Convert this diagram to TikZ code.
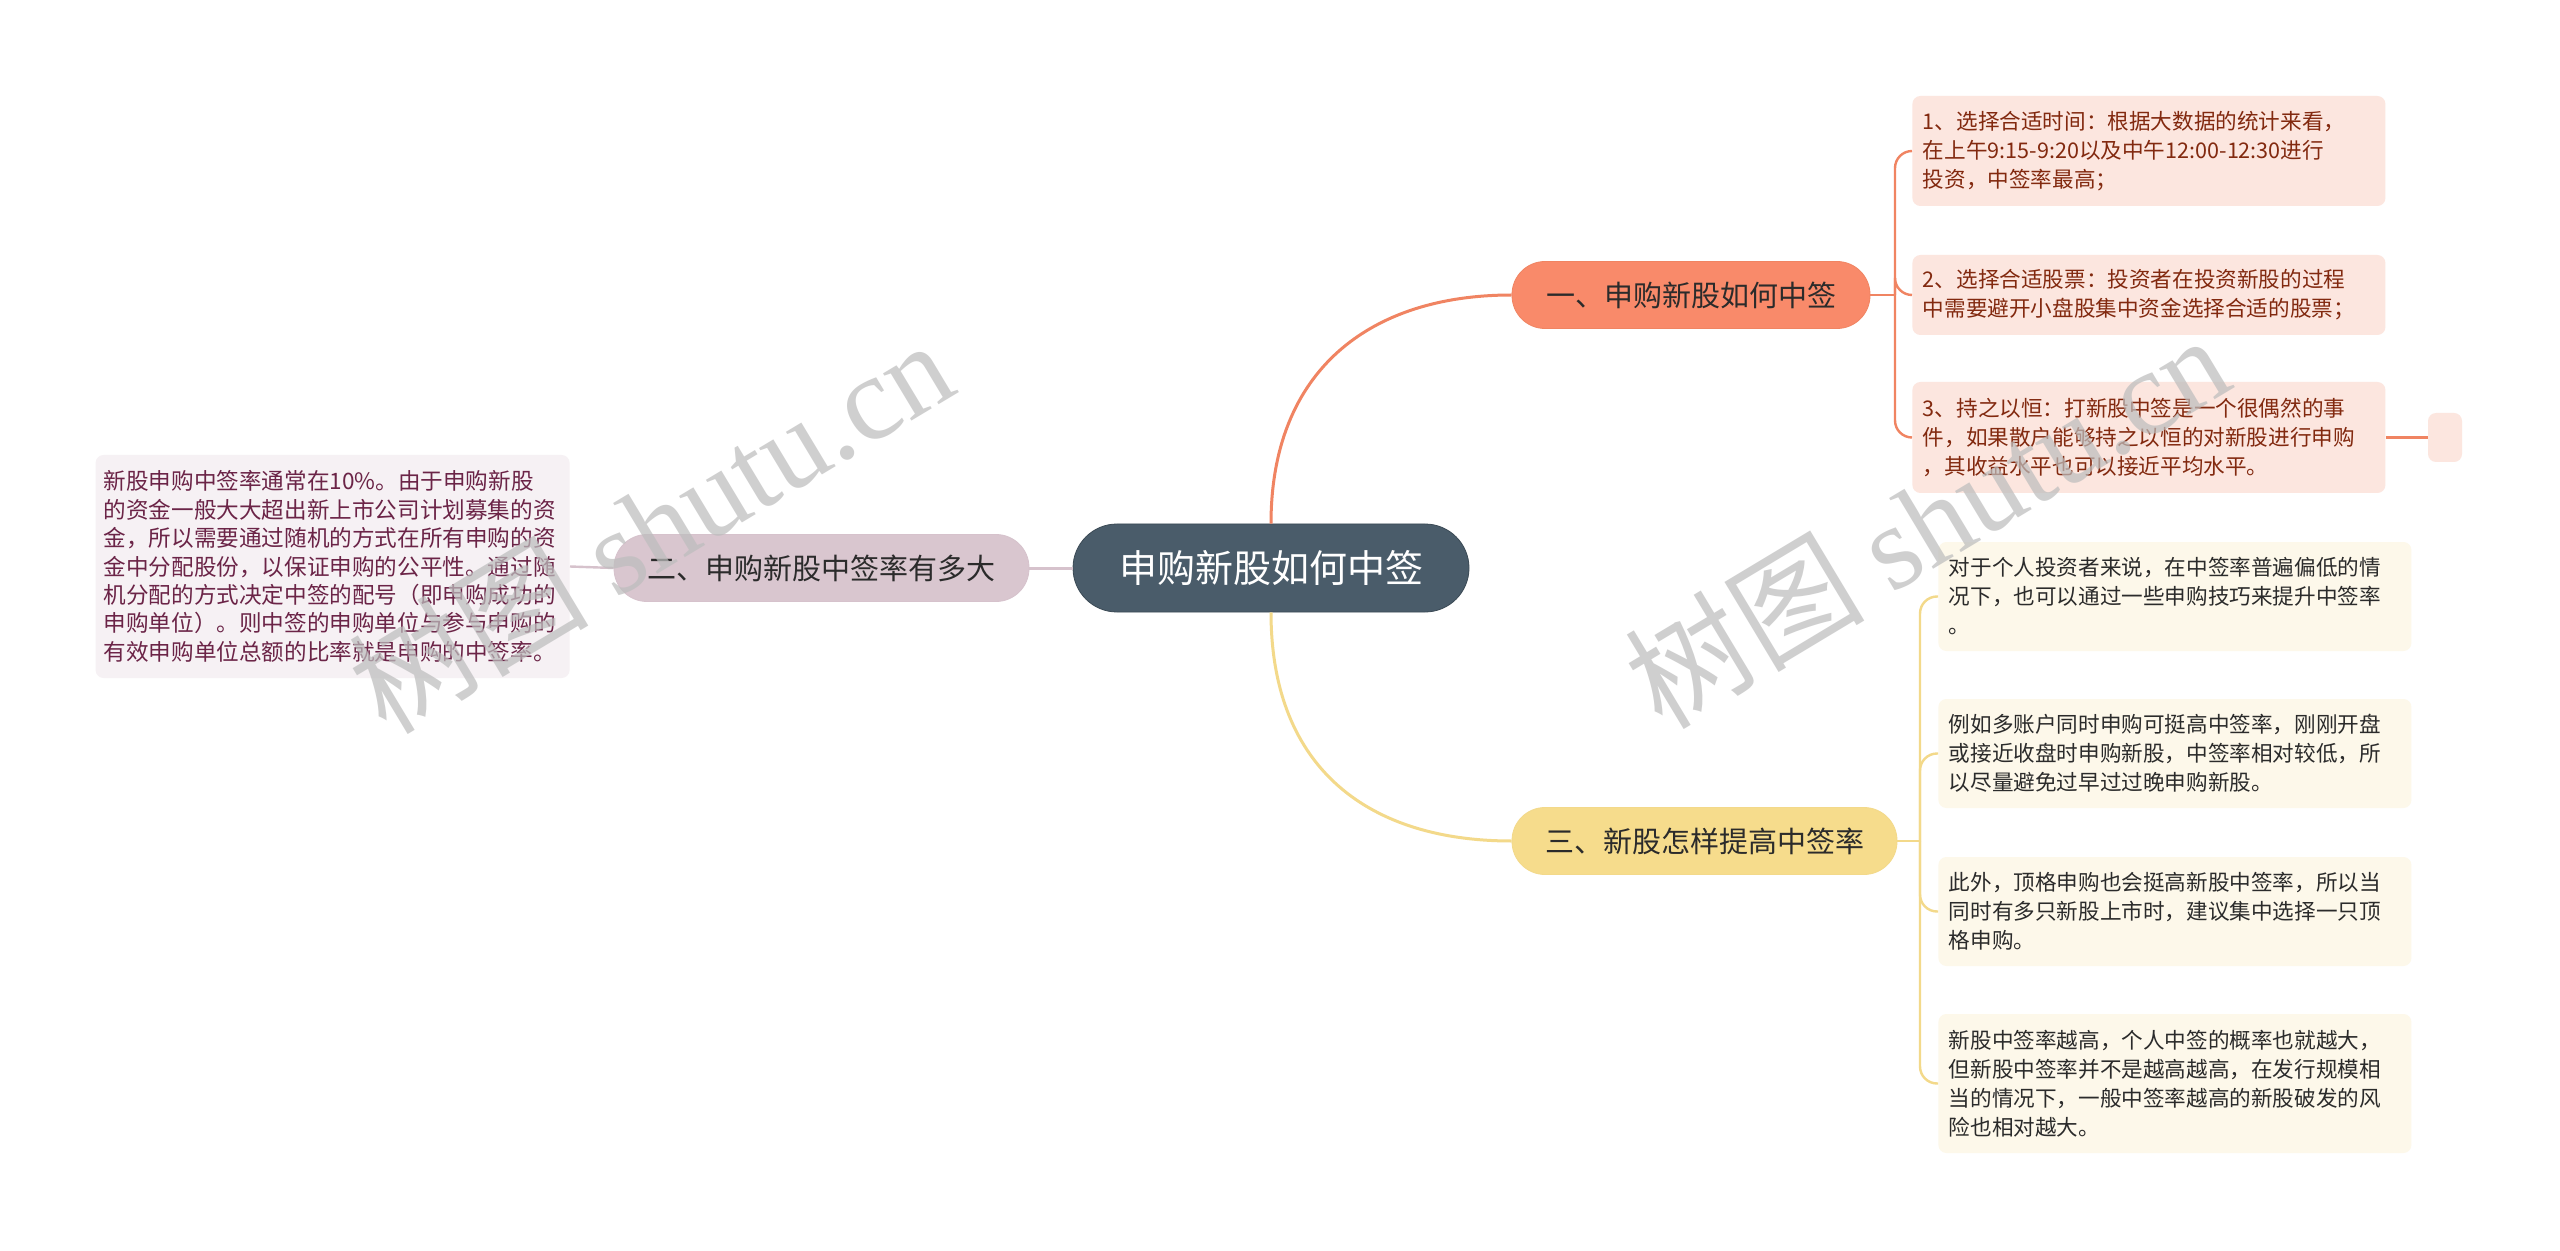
\documentclass[tikz,border=0pt]{standalone}
\usepackage{fontspec}
\setmainfont{Noto Sans CJK SC}
\newfontfamily\wmlatin{Liberation Serif}
\usetikzlibrary{calc}
\definecolor{rootfill}{HTML}{4A5C6A}
\definecolor{oneFill}{HTML}{F98A6A}
\definecolor{oneLine}{HTML}{F08462}
\definecolor{oneLeaf}{HTML}{FCE6DF}
\definecolor{oneText}{HTML}{82290F}
\definecolor{twoFill}{HTML}{D9C6CF}
\definecolor{twoLine}{HTML}{D6C2CC}
\definecolor{twoLeaf}{HTML}{F6F1F4}
\definecolor{twoText}{HTML}{6B2447}
\definecolor{thrFill}{HTML}{F6DC8C}
\definecolor{thrLine}{HTML}{F3D98A}
\definecolor{thrLeaf}{HTML}{FDF8EA}
\definecolor{darktext}{HTML}{2B2B2B}
\definecolor{wmgray}{HTML}{BDBDBD}
\tikzset{
  branchbox/.style={rounded corners=16.5pt, minimum height=33.5pt, inner sep=0pt,
    font=\fontsize{14.5}{17}\selectfont, text=darktext},
  leafbox/.style={rounded corners=4pt, align=left, text width=226pt, inner xsep=5.25pt,
    inner ysep=0pt, anchor=west, font=\fontsize{10.8}{14.5}\selectfont},
  leafone/.style={leafbox, fill=oneLeaf, text=oneText},
  leafthree/.style={leafbox, fill=thrLeaf, text=darktext},
  mainline/.style={line width=1.5pt},
  subline/.style={line width=1.2pt},
  wmark/.style={rotate=31, text=wmgray, opacity=0.72, font=\fontsize{60}{60}\selectfont}
}
\begin{document}
\begin{tikzpicture}[x=0.5pt,y=-0.5pt]
\useasboundingbox[fill=white] (0,0) rectangle (2560,1251);

% root
\node[fill=rootfill, draw=rootfill!80!black, rounded corners=22pt, minimum width=198pt, minimum height=44pt,
  inner sep=0pt, text=white, font=\fontsize{19}{22}\selectfont] (root) at (1271,568) {申购新股如何中签};

% branches
\node[branchbox, fill=oneFill, draw=oneLine, minimum width=179pt] (b1) at (1691,295) {一、申购新股如何中签};
\node[branchbox, fill=twoFill, draw=twoLine, minimum width=207.5pt] (b2) at (821.5,568) {二、申购新股中签率有多大};
\node[branchbox, fill=thrFill, draw=thrLine, minimum width=192.5pt] (b3) at (1704.5,841) {三、新股怎样提高中签率};

% leaves of branch one
\node[leafone, minimum height=55pt] (l1) at (1912,151) {1、选择合适时间：根据大数据的统计来看，\\在上午9:15-9:20以及中午12:00-12:30进行\\投资，中签率最高；};
\node[leafone, minimum height=40pt] (l2) at (1912,295) {2、选择合适股票：投资者在投资新股的过程\\中需要避开小盘股集中资金选择合适的股票；};
\node[leafone, minimum height=55.5pt] (l3) at (1912,437.5) {3、持之以恒：打新股中签是一个很偶然的事\\件，如果散户能够持之以恒的对新股进行申购\\，其收益水平也可以接近平均水平。};
\node[fill=oneLeaf, rounded corners=4pt, minimum width=17pt, minimum height=24.5pt, inner sep=0pt] (l3x) at (2445,437.5) {};

% leaf of branch two
\node[fill=twoLeaf, text=twoText, rounded corners=4pt, align=left, text width=229pt, inner xsep=4pt,
  inner ysep=0pt, minimum height=111.5pt, anchor=east, font=\fontsize{11.3}{14.2}\selectfont] (m1) at (570,566.5)
  {新股申购中签率通常在10\%。由于申购新股\\的资金一般大大超出新上市公司计划募集的资\\金，所以需要通过随机的方式在所有申购的资\\金中分配股份，以保证申购的公平性。通过随\\机分配的方式决定中签的配号（即申购成功的\\申购单位）。则中签的申购单位与参与申购的\\有效申购单位总额的比率就是申购的中签率。};

% leaves of branch three
\node[leafthree, minimum height=54.5pt] (r1) at (1938,596.5) {对于个人投资者来说，在中签率普遍偏低的情\\况下，也可以通过一些申购技巧来提升中签率\\。};
\node[leafthree, minimum height=54.5pt] (r2) at (1938,753.5) {例如多账户同时申购可挺高中签率，刚刚开盘\\或接近收盘时申购新股，中签率相对较低，所\\以尽量避免过早过过晚申购新股。};
\node[leafthree, minimum height=54.5pt] (r3) at (1938,911.5) {此外，顶格申购也会挺高新股中签率，所以当\\同时有多只新股上市时，建议集中选择一只顶\\格申购。};
\node[leafthree, minimum height=69.5pt] (r4) at (1938,1083.5) {新股中签率越高，个人中签的概率也就越大，\\但新股中签率并不是越高越高，在发行规模相\\当的情况下，一般中签率越高的新股破发的风\\险也相对越大。};

% connectors from root
\draw[mainline, oneLine] (root.north) .. controls (1271,370) and (1370,295) .. (b1.west);
\draw[mainline, thrLine] (root.south) .. controls (1271,770) and (1370,841) .. (b3.west);
\draw[mainline, twoLine] (root.west) -- (b2.east);
\draw[subline, twoLine] (b2.west) -- (m1.east);

% fork of branch one
\coordinate (f1) at (1895,295);
\draw[subline, oneLine] (b1.east) -- (f1);
\draw[subline, oneLine, rounded corners=8.5pt] (f1) |- (l1.west);
\draw[subline, oneLine, rounded corners=8.5pt] (f1) |- (l2.west);
\draw[subline, oneLine, rounded corners=8.5pt] (f1) |- (l3.west);
\draw[subline, oneLine] (l3.east) -- (l3x.west);

% fork of branch three
\coordinate (f3) at (1920,841);
\draw[subline, thrLine] (b3.east) -- (f3);
\draw[subline, thrLine, rounded corners=8.5pt] (f3) |- (r1.west);
\draw[subline, thrLine, rounded corners=8.5pt] (f3) |- (r2.west);
\draw[subline, thrLine, rounded corners=8.5pt] (f3) |- (r3.west);
\draw[subline, thrLine, rounded corners=8.5pt] (f3) |- (r4.west);

% watermarks
\node[wmark] (wm1) at (650,525) {树图 {\wmlatin shutu.cn}};
\node[wmark] (wm2) at (1926,520) {树图 {\wmlatin shutu.cn}};
\end{tikzpicture}
\end{document}
